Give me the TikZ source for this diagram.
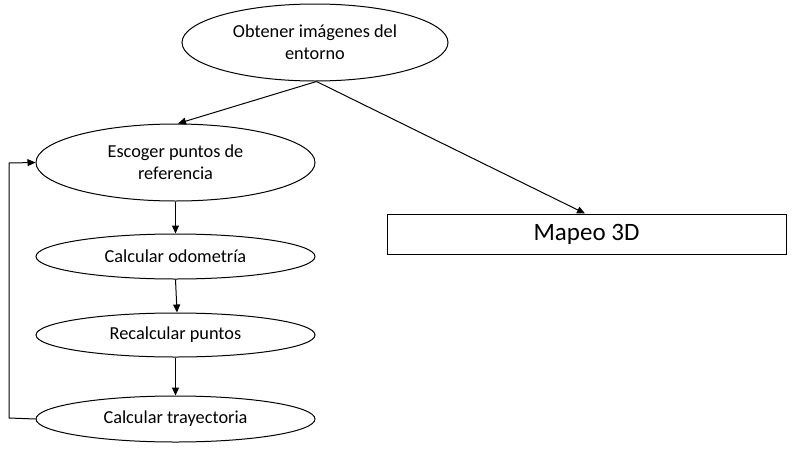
\documentclass[tikz,border=0pt]{standalone}
\usepackage{fontspec}
\setmainfont{Carlito}
\usetikzlibrary{shapes.geometric,arrows.meta}
\begin{document}
\begin{tikzpicture}[x=1pt,y=-1pt,
  every node/.style={font=\fontsize{18.3}{22}\selectfont},
  oval/.style={draw,ellipse,line width=1pt,inner sep=0pt,align=center},
  arr/.style={line width=1pt,-{Triangle[length=8pt,width=7pt]}}]
\useasboundingbox (0,0) rectangle (792,458);
\node[oval,minimum width=266pt,minimum height=77pt] (top) at (315,42.5) {Obtener imágenes del\\entorno};
\node[oval,minimum width=279pt,minimum height=77pt] (esc) at (175.5,162.5) {Escoger puntos de\\referencia};
\node[oval,minimum width=279pt,minimum height=45pt] (odo) at (175.5,256.5) {Calcular odometría};
\node[oval,minimum width=279pt,minimum height=44pt] (rec) at (175.5,335) {Recalcular puntos};
\node[oval,minimum width=279pt,minimum height=46pt] (tra) at (175.5,419) {Calcular trayectoria};
\node[draw,line width=1pt,minimum width=399pt,minimum height=40pt,inner sep=0pt,font=\fontsize{25}{30}\selectfont] (map) at (586.5,234) {Mapeo 3D};
\coordinate (c1) at (9,418);
\coordinate (c2) at (9,163);
\draw[arr] ([xshift=1.5pt]top.south) -- ([xshift=2.5pt]esc.north);
\draw[arr] ([xshift=1.5pt]top.south) -- ([xshift=-1.5pt]map.north);
\draw[arr] (esc.south) -- (odo.north);
\draw[arr] (odo.south) -- ([xshift=1.5pt]rec.north);
\draw[arr] (rec.south) -- (tra.north);
\draw[arr] (tra.west) -- (c1) -- (c2) -- (esc.west);
\end{tikzpicture}
\end{document}
